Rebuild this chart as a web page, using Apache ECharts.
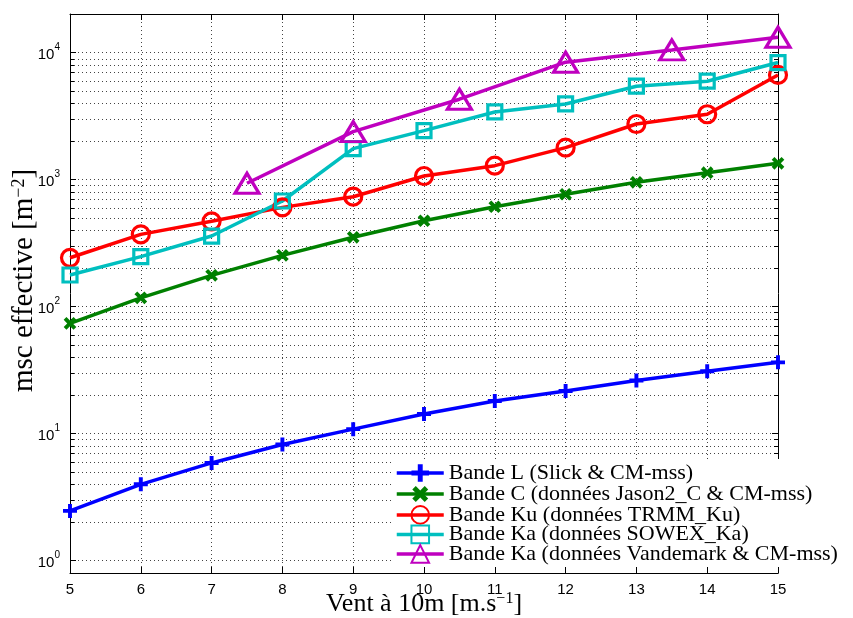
<!DOCTYPE html>
<html><head><meta charset="utf-8">
<script src="https://cdn.jsdelivr.net/npm/echarts@6/dist/echarts.min.js"></script>
<style>html,body{margin:0;padding:0;background:#fff}#c{width:853px;height:618px}</style>
</head><body><div id="c"></div>
<script>
// ---- data ----
const windSpeeds = [5, 6, 7, 8, 9, 10, 11, 12, 13, 14, 15];
const bandeL = [2.45, 3.97, 5.85, 8.17, 10.8, 14.2, 18.0, 21.6, 26.1, 30.9, 36.3];
const bandeC = [73.6, 117, 176, 253, 351, 474, 611, 766, 952, 1133, 1344];
const bandeKu = [242, 370, 469, 604, 733, 1067, 1288, 1786, 2742, 3273, 6680];
const bandeKaSowex = [177, 247, 359, 678, 1754, 2432, 3412, 3945, 5445, 5960, 8360];
const vandemarkWind = [7.5, 9, 10.5, 12, 13.5, 15];
const bandeKaVandemark = [935, 2387, 4300, 8420, 10520, 13250];
const seriesNames = [
  'Bande L (Slick & CM-mss)',
  'Bande C (données Jason2_C & CM-mss)',
  'Bande Ku (données TRMM_Ku)',
  'Bande Ka (données SOWEX_Ka)',
  'Bande Ka (données Vandemark & CM-mss)'
];
const xMin = 5, xMax = 15, xStep = 1;
const yMin = 0.794, yMax = 20180;
const minorGridValues = [2,3,4,5,6,7,8,9, 20,30,40,50,60,70,80,90,
  200,300,400,500,600,700,800,900, 2000,3000,4000,5000,6000,7000,8000,9000];
const xTitle = 'Vent à 10m [m.s{sup|−1}]';
const yTitle = 'msc effective [m{sup|−2}]';

// ---- styles ----
const colors = ['#0000ff', '#008000', '#ff0000', '#00bfbf', '#bf00bf'];
const plusPath = 'path://M3.6,0H6.4V3.6H10V6.4H6.4V10H3.6V6.4H0V3.6H3.6Z';
const serif = '"Liberation Serif","DejaVu Serif",serif';
const sans = '"Liberation Sans",Arial,sans-serif';
const gridDot = { color: '#444', width: 1, type: [1, 3] };

function pairs(xs, ys) { return xs.map((x, i) => [x, ys[i]]); }
function isPow10(v) { const l = Math.log10(v); return Math.abs(l - Math.round(l)) < 1e-6; }

function lineSeries(idx, xs, ys, symbol, size, extra) {
  const filled = (symbol === plusPath);
  return Object.assign({
    name: seriesNames[idx], type: 'line', data: pairs(xs, ys),
    symbol: symbol, symbolSize: size, showAllSymbol: true, clip: false, z: 3,
    color: colors[idx],
    lineStyle: { color: colors[idx], width: 3.5 },
    itemStyle: filled ? { color: colors[idx] } :
      { color: 'rgba(255,255,255,0)', borderColor: colors[idx], borderWidth: 3.2 },
    emphasis: { disabled: true }, animation: false
  }, extra || {});
}

const chart = echarts.init(document.getElementById('c'), null, { renderer: 'canvas' });
chart.setOption({
  backgroundColor: '#fff',
  animation: false,
  grid: { left: 70, top: 14, right: 75, bottom: 45, containLabel: false, outerBoundsMode: 'none' },
  legend: {
    data: seriesNames, orient: 'vertical', left: 392, top: 459,
    padding: [3, 20, 2, 3], backgroundColor: '#fff', itemWidth: 47, itemHeight: 22, itemGap: -2.5,
    lineStyle: { width: 3.5 },
    textStyle: { fontFamily: serif, fontSize: 22, color: '#000', lineHeight: 18 },
    selectedMode: false
  },
  xAxis: [{
    type: 'value', min: xMin, max: xMax, interval: xStep, position: 'bottom',
    name: xTitle, nameLocation: 'middle', nameGap: 18, nameMoveOverlap: false,
    nameTextStyle: { fontFamily: serif, fontSize: 26, color: '#000',
      rich: { sup: { fontFamily: serif, fontSize: 16, verticalAlign: 'top', padding: [0,0,9,0] } } },
    axisLine: { show: true, onZero: false, lineStyle: { color: '#000', width: 1 } },
    axisTick: { show: true, inside: true, length: 6, lineStyle: { color: '#000' } },
    axisLabel: { fontFamily: sans, fontSize: 15, color: '#000', margin: 9 },
    splitLine: { show: true, lineStyle: gridDot }
  }, {
    type: 'value', min: xMin, max: xMax, interval: xStep, position: 'top',
    axisLine: { show: true, onZero: false, lineStyle: { color: '#000', width: 1 } },
    axisTick: { show: true, inside: true, length: 6, lineStyle: { color: '#000' } },
    axisLabel: { show: false }, splitLine: { show: false }
  }],
  yAxis: [{
    type: 'log', logBase: 10, min: yMin, max: yMax, position: 'left',
    name: yTitle, nameLocation: 'middle', nameGap: 31, nameRotate: 90, nameMoveOverlap: false,
    nameTextStyle: { fontFamily: serif, fontSize: 29, color: '#000', padding: [0, 0, 0, 26],
      rich: { sup: { fontFamily: serif, fontSize: 18, verticalAlign: 'top', padding: [0,0,10,0] } } },
    axisLine: { show: true, onZero: false, lineStyle: { color: '#000', width: 1 } },
    axisTick: { show: true, inside: true, length: 6, lineStyle: { color: '#000' } },
    axisLabel: {
      margin: 10, color: '#000',
      formatter: function (v) {
        if (!isPow10(v)) return '';
        return '{b|10}{s|' + Math.round(Math.log10(v)) + '}';
      },
      rich: {
        b: { fontFamily: sans, fontSize: 15, color: '#000', verticalAlign: 'bottom', lineHeight: 20 },
        s: { fontFamily: sans, fontSize: 10, color: '#000', verticalAlign: 'top', lineHeight: 12 }
      }
    },
    splitLine: { show: true, lineStyle: gridDot }
  }, {
    type: 'log', logBase: 10, min: yMin, max: yMax, position: 'right',
    axisLine: { show: true, onZero: false, lineStyle: { color: '#000', width: 1 } },
    axisTick: { show: true, inside: true, length: 6, lineStyle: { color: '#000' } },
    axisLabel: { show: false }, splitLine: { show: false }
  }],
  series: [
    {
      name: 'minor-grid', type: 'custom', coordinateSystem: 'cartesian2d', silent: true, z: 1,
      xAxisIndex: 0, yAxisIndex: 0, clip: false, animation: false,
      data: minorGridValues.map(v => [xMin, v]), encode: { x: 0, y: 1 },
      renderItem: function (params, api) {
        const cs = params.coordSys;
        const y = Math.round(api.coord([xMin, api.value(1)])[1]) + 0.5;
        const x0 = cs.x, x1 = cs.x + cs.width;
        return { type: 'group', children: [
          { type: 'line', shape: { x1: x0, y1: y, x2: x1, y2: y }, style: { stroke: '#444', lineWidth: 1, lineDash: [1, 3] } },
          { type: 'line', shape: { x1: x0, y1: y, x2: x0 + 4, y2: y }, style: { stroke: '#000', lineWidth: 1 } },
          { type: 'line', shape: { x1: x1 - 4, y1: y, x2: x1, y2: y }, style: { stroke: '#000', lineWidth: 1 } }
        ]};
      }
    },
    lineSeries(0, windSpeeds, bandeL, plusPath, 14),
    lineSeries(1, windSpeeds, bandeC, plusPath, 14, { symbolRotate: 45 }),
    lineSeries(2, windSpeeds, bandeKu, 'circle', 17),
    lineSeries(3, windSpeeds, bandeKaSowex, 'rect', 14),
    lineSeries(4, vandemarkWind, bandeKaVandemark, 'triangle', [24, 20])
  ]
});
</script></body></html>
